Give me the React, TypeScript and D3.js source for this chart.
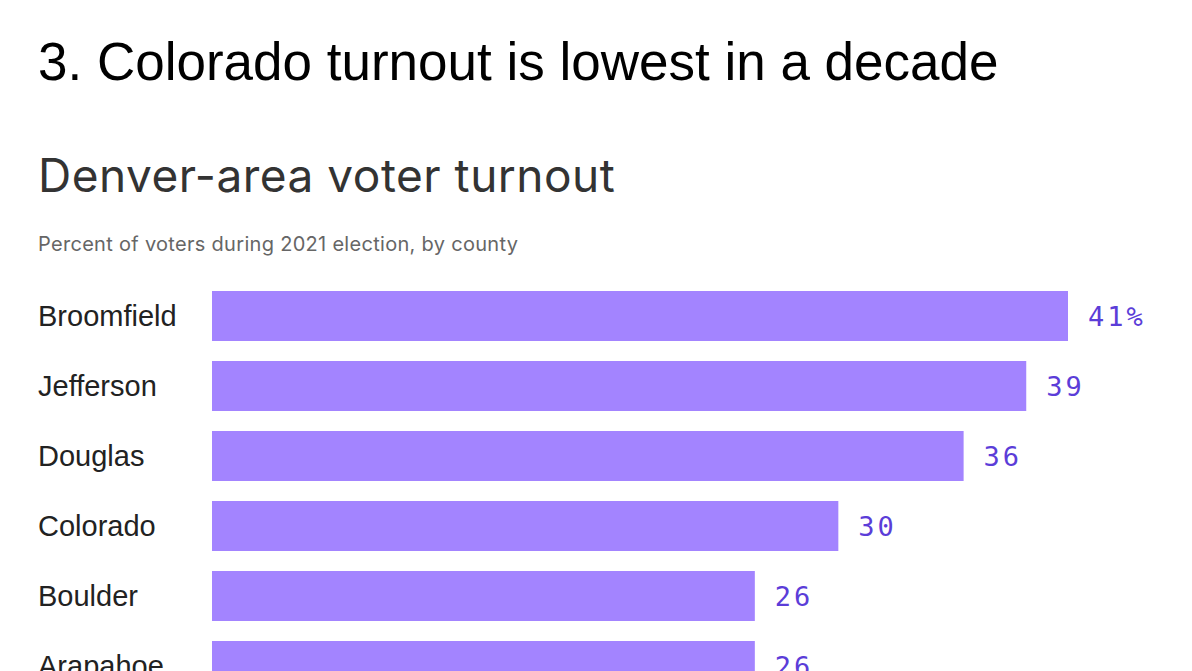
import React from 'react';
import * as d3 from 'd3';

const counties = ['Broomfield', 'Jefferson', 'Douglas', 'Colorado', 'Boulder', 'Arapahoe'];
const turnout = [41, 39, 36, 30, 26, 26];

const W = 1192;
const H = 671;

export default function App() {
  const x = d3.scaleLinear().domain([0, 41]).range([212, 1068]);
  // step 70, bar 50
  const y = d3.scaleBand<string>().domain(counties).range([291, 291 + 70 * counties.length - 20]).paddingInner(2 / 7).paddingOuter(0);
  const band = y.bandwidth();

  return (
    <svg width={W} height={H} style={{ position: 'absolute', left: 0, top: 0, background: '#fff' }}>
      <text x={38} y={80} fontFamily="Liberation Sans, Arial, sans-serif" fontSize={53} fill="#000">
        3. Colorado turnout is lowest in a decade
      </text>
      <text x={38} y={192} fontFamily="Inter, Noto Sans, sans-serif" fontSize={46} fill="#333" letterSpacing={0.5}>
        Denver-area voter turnout
      </text>
      <text x={38} y={251} fontFamily="Inter, Noto Sans, sans-serif" fontSize={20} fill="#666" letterSpacing={0.3}>
        Percent of voters during 2021 election, by county
      </text>
      {counties.map((c, i) => {
        const yy = y(c)!;
        return (
          <g key={c}>
            <text x={38} y={yy + band / 2 + 10} fontFamily="Liberation Sans, Arial, sans-serif" fontSize={29} fill="#222">
              {c}
            </text>
            <rect x={x(0)} y={yy} width={x(turnout[i]) - x(0)} height={band} fill="#a384ff" />
            <text x={x(turnout[i]) + 20} y={yy + band / 2 + 10} fontFamily="DejaVu Sans Mono, Liberation Mono, monospace" fontSize={27} letterSpacing={3} fill="#5b3dd8">
              {i === 0 ? `${turnout[i]}%` : turnout[i]}
            </text>
          </g>
        );
      })}
    </svg>
  );
}
